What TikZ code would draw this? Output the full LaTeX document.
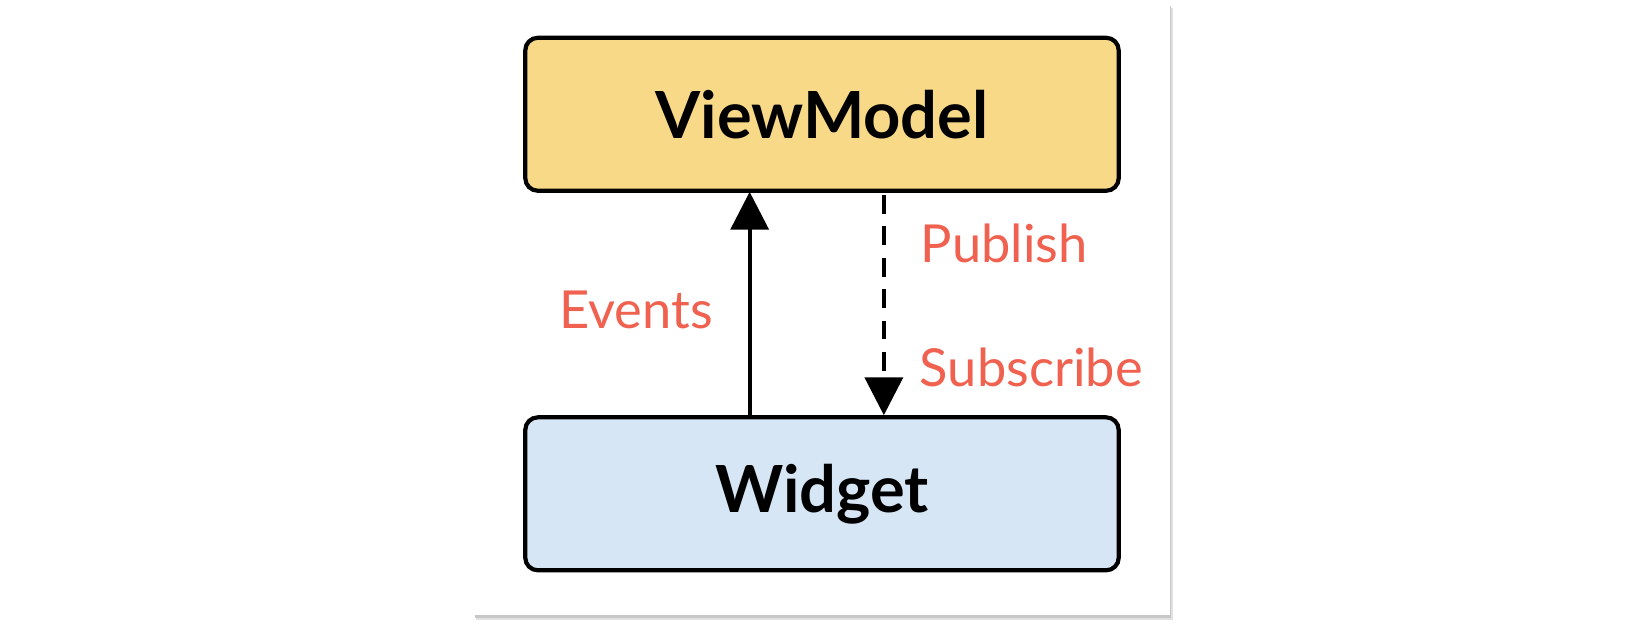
\documentclass[tikz,border=0pt]{standalone}
\usepackage{fontspec}
\setmainfont{Lato}
\usetikzlibrary{arrows.meta}
\definecolor{vm}{HTML}{F8D987}
\definecolor{wd}{HTML}{D6E6F5}
\definecolor{lbl}{HTML}{F0614F}
\begin{document}
\begin{tikzpicture}[x=0.5242pt,y=-0.5242pt,
  box/.style={draw=black,line width=2.1pt,rounded corners=6.3pt,minimum width=296.7pt,minimum height=76.5pt,font=\fontsize{32.5}{36}\selectfont\bfseries},
  lab/.style={text=lbl,font=\fontsize{26.2}{31}\selectfont,anchor=west,inner sep=0pt},
  arr/.style={line width=2.1pt,-{Triangle[length=18.9pt,width=18.9pt]}}]
\useasboundingbox (0,0) rectangle (1568,599);
\fill[white] (0,0) rectangle (1568,599);
\fill[black!12] (454,8) rectangle (1119,591);
\fill[black!22] (453,6) rectangle (1117,589);
\fill[white] (452,4) rectangle (1116,587);
\node[box,fill=vm] (vm) at (784,109) {ViewModel};
\node[box,fill=wd] (wd) at (784,471) {Widget};
\coordinate (a1) at (715,398);
\coordinate (a2) at (715,183);
\coordinate (b1) at (843,186);
\coordinate (b2) at (843,396);
\draw[arr] (a1) -- (a2);
\draw[arr,dash pattern=on 9.4pt off 6.3pt] (b1) -- (b2);
\node[lab] (pub) at (878,232) {Publish};
\node[lab] (ev) at (533,296) {Events};
\node[lab] (sub) at (877,350) {Subscribe};
\end{tikzpicture}
\end{document}
